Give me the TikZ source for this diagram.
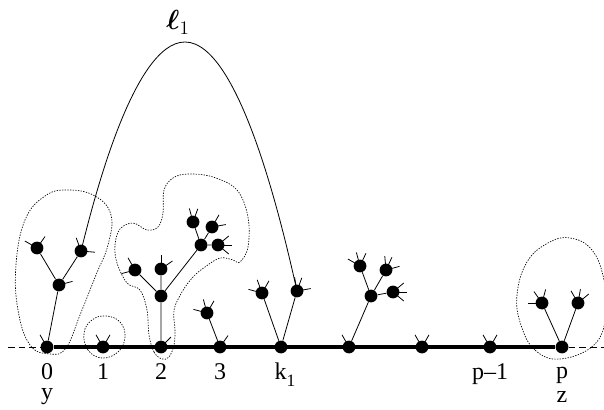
\documentclass[tikz,border=0pt]{standalone}
\usepackage{amsmath}
\usepackage{fontspec}
\setmainfont{Liberation Serif}
\newcommand{\stubs}[2]{\foreach \a in {#2} \draw[stub] (#1.center) -- ++(\a:10.5pt);}
\tikzset{
  dot/.style={circle,fill,inner sep=0pt,minimum size=9.6pt},
  stub/.style={line width=0.6pt},
  twig/.style={line width=0.6pt},
  spine/.style={line width=2.6pt},
  blob/.style={line width=0.5pt,dash pattern=on 1pt off 1pt},
  lab/.style={anchor=base,inner sep=0pt,font=\fontsize{18}{20}\selectfont},
  labtwo/.style={anchor=north,inner sep=0pt,align=center,font=\fontsize{18}{15}\selectfont}
}
\begin{document}
\begin{tikzpicture}[x=0.75pt,y=-0.75pt]
    \useasboundingbox (0,0) rectangle (604,410);
    % dotted blobs
    \draw[blob] plot[smooth cycle,tension=0.7] coordinates {(50,354) (30,345) (18,310) (16,265) (25,220) (45,196) (68,190) (95,196) (111,215) (108,245) (96,275) (80,315) (66,348)};
    \draw[blob] plot[smooth cycle,tension=0.7] coordinates {(102,358) (88,350) (84,333) (92,320) (106,316) (120,322) (125,337) (118,352)};
    \draw[blob] plot[smooth cycle,tension=0.6] coordinates {(162,359) (154,352) (149,335) (147,310) (140,290) (127,283) (117,263) (115,245) (120,229) (133,223) (147,230) (158,227) (163,213) (164,190) (173,178) (188,174) (213,177) (237,190) (248,217) (248,247) (240,262) (233,260) (220,258) (205,267) (193,277) (182,292) (174,310) (175,330) (174,345) (169,357)};
    \draw[blob] plot[smooth cycle,tension=0.7] coordinates {(560,359) (535,350) (521,325) (517,295) (527,262) (548,243) (570,238) (592,250) (604,280) (606,315) (594,345)};
    % spine nodes
    \node[dot] (s0) at (47,347) {};
    \node[dot] (s1) at (103,347) {};
    \node[dot] (s2) at (161,347) {};
    \node[dot] (s3) at (220,347) {};
    \node[dot] (sk) at (281,347) {};
    \node[dot] (s5) at (349,347) {};
    \node[dot] (s6) at (422,347) {};
    \node[dot] (s7) at (490,347) {};
    \node[dot] (sp) at (562,347) {};
    \coordinate (lend) at (8,347);
    \coordinate (rend) at (604,347);
    % trees
    \node[dot] (a1) at (59,285) {};
    \node[dot] (a2) at (37,248) {};
    \node[dot] (a3) at (81,251) {};
    \node[dot] (b1) at (161,296) {};
    \node[dot] (b2) at (135,270) {};
    \node[dot] (b3) at (161,269) {};
    \node[dot] (b4) at (201,245) {};
    \node[dot] (c1) at (193,222) {};
    \node[dot] (c2) at (212,227) {};
    \node[dot] (c3) at (218,245) {};
    \node[dot] (d1) at (207,313) {};
    \node[dot] (e1) at (262,293) {};
    \node[dot] (e2) at (297,291) {};
    \node[dot] (f1) at (371,296) {};
    \node[dot] (f2) at (360,266) {};
    \node[dot] (f3) at (386,270) {};
    \node[dot] (f4) at (393,292) {};
    \node[dot] (g1) at (542,303) {};
    \node[dot] (g2) at (578,303) {};
    \coordinate (top) at (185,42);
    % connectors
    \draw[spine] (s0) -- (sp);
    \draw[twig,dash pattern=on 5pt off 3pt] (lend) -- (s0);
    \draw[twig,dash pattern=on 5pt off 3pt] (sp) -- (rend);
    \draw[twig] (s0) -- (a1) (a1) -- (a2) (a1) -- (a3);
    \draw[twig] (s2) -- (b1) (b1) -- (b2) (b1) -- (b3) (b1) -- (b4);
    \draw[twig] (b4) -- (c1) (b4) -- (c2) (b4) -- (c3);
    \draw[twig] (s3) -- (d1);
    \draw[twig] (sk) -- (e1) (sk) -- (e2);
    \draw[twig] (s5) -- (f1) (f1) -- (f2) (f1) -- (f3) (f1) -- (f4);
    \draw[twig] (sp) -- (g1) (sp) -- (g2);
    \draw[twig] (a3.center) parabola bend (top) (e2.center);
    % stubs
    \stubs{s0}{120}
    \stubs{a1}{15}
    \stubs{a2}{150,55}
    \stubs{a3}{110,-5}
    \stubs{s1}{120,60}
    \stubs{s2}{45}
    \stubs{b2}{120,195}
    \stubs{b3}{90,35}
    \stubs{c1}{105,70}
    \stubs{c2}{60,10}
    \stubs{c3}{40,0,-40}
    \stubs{s3}{55}
    \stubs{d1}{105,60,165}
    \stubs{e1}{165,110,60}
    \stubs{e2}{100,70,10}
    \stubs{s5}{120}
    \stubs{f2}{150,105,65}
    \stubs{f3}{95,65,15}
    \stubs{f4}{40,0,-40}
    \stubs{s6}{120,60}
    \stubs{s7}{120,60}
    \stubs{g1}{180,125,75}
    \stubs{g2}{120,80,40}
    % labels
    \node[labtwo] (l0) at (47,363) {0\\y};
    \node[lab] (l1) at (103,379) {1};
    \node[lab] (l2) at (161,379) {2};
    \node[lab] (l3) at (220,379) {3};
    \node[lab] (lk) at (285,379) {k\raisebox{-0.3em}{\fontsize{13}{13}\selectfont 1}};
    \node[lab] (lp1) at (490,379) {p--1};
    \node[labtwo] (lp) at (562,367) {p\\[3pt]z};
    \node[lab,font=\fontsize{21}{24}\selectfont] (lell) at (178,30) {$\boldsymbol{\ell}_1$};
  \end{tikzpicture}
\end{document}
